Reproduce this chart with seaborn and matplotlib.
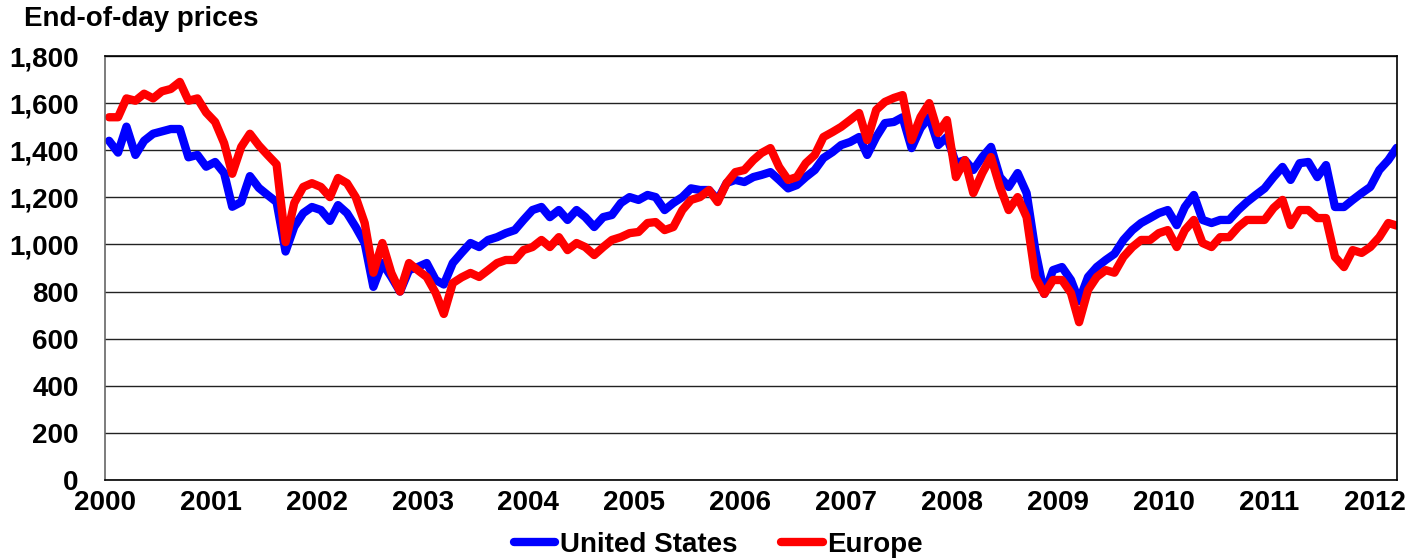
import pandas as pd
import seaborn as sns
import matplotlib
matplotlib.use("Agg")
import matplotlib.pyplot as plt
import matplotlib.dates as mdates
from matplotlib.ticker import FuncFormatter, MultipleLocator

# mid-month readings, Jan 2000 .. Mar 2012
fechas = pd.date_range("2000-01-01", "2012-03-01", freq="MS") + pd.Timedelta(days=14)

estados_unidos = [
    1440, 1390, 1500, 1380, 1440, 1470, 1480, 1490, 1490, 1370, 1380, 1330,  # 2000
    1350, 1303, 1160, 1180, 1290, 1240, 1210, 1180, 970, 1075, 1133, 1159,   # 2001
    1146, 1100, 1167, 1133, 1074, 1006, 820, 921, 862, 800, 891, 904,        # 2002
    921, 849, 830, 921, 964, 1006, 989, 1019, 1031, 1048, 1061, 1104,        # 2003
    1146, 1159, 1116, 1146, 1104, 1146, 1116, 1074, 1116, 1125, 1176, 1201,  # 2004
    1189, 1210, 1201, 1146, 1176, 1201, 1238, 1231, 1231, 1189, 1261, 1274,  # 2005
    1265, 1286, 1295, 1307, 1274, 1238, 1252, 1286, 1316, 1367, 1392, 1422,  # 2006
    1435, 1456, 1380, 1456, 1515, 1520, 1540, 1409, 1494, 1541, 1422, 1456,  # 2007
    1345, 1358, 1316, 1371, 1414, 1286, 1244, 1303, 1218, 976, 790, 891,     # 2008
    904, 849, 760, 862, 904, 934, 960, 1019, 1061, 1091, 1112, 1133,         # 2009
    1146, 1082, 1159, 1210, 1104, 1091, 1104, 1104, 1146, 1180, 1210, 1238,  # 2010
    1286, 1329, 1274, 1345, 1350, 1286, 1337, 1159, 1159, 1189, 1218, 1244,  # 2011
    1316, 1358, 1410,                                                        # 2012
]

europa = [
    1540, 1540, 1620, 1610, 1640, 1620, 1650, 1660, 1690, 1610, 1620, 1560,  # 2000
    1520, 1430, 1300, 1414, 1470, 1420, 1380, 1340, 1010, 1176, 1244, 1260,  # 2001
    1244, 1201, 1282, 1260, 1201, 1091, 880, 1006, 879, 800, 921, 891,       # 2002
    862, 794, 705, 836, 860, 879, 862, 891, 921, 934, 934, 976,              # 2003
    989, 1019, 989, 1031, 976, 1006, 989, 955, 989, 1019, 1031, 1048,        # 2004
    1053, 1091, 1095, 1061, 1074, 1146, 1189, 1201, 1231, 1180, 1261, 1307,  # 2005
    1316, 1358, 1388, 1409, 1329, 1274, 1286, 1345, 1380, 1456, 1477, 1499,  # 2006
    1528, 1558, 1443, 1571, 1605, 1622, 1634, 1443, 1541, 1600, 1473, 1528,  # 2007
    1286, 1358, 1218, 1303, 1371, 1244, 1146, 1201, 1116, 862, 790, 849,     # 2008
    849, 794, 670, 807, 862, 891, 880, 947, 989, 1019, 1019, 1048,           # 2009
    1061, 989, 1061, 1104, 1006, 989, 1031, 1031, 1074, 1104, 1104, 1104,    # 2010
    1155, 1189, 1082, 1146, 1146, 1112, 1112, 947, 904, 976, 964, 989,       # 2011
    1031, 1091, 1080,                                                        # 2012
]

series = ["United States", "Europe"]
colores = {"United States": "#0000FF", "Europe": "#FF0000"}

df = pd.concat([
    pd.DataFrame({"fecha": fechas, "precio": estados_unidos, "region": series[0]}),
    pd.DataFrame({"fecha": fechas, "precio": europa, "region": series[1]}),
])

sns.set_style("white")
plt.rcParams["font.family"] = ["Liberation Sans", "DejaVu Sans"]
plt.rcParams["font.weight"] = "bold"
plt.rcParams["text.color"] = "black"
plt.rcParams["xtick.color"] = "black"
plt.rcParams["ytick.color"] = "black"

fig = plt.figure(figsize=(14.14, 5.6), dpi=100)
ax = fig.add_axes([105 / 1414, 80 / 560, 1292 / 1414, 424 / 560])

sns.lineplot(data=df, x="fecha", y="precio", hue="region", hue_order=series,
             palette=colores, linewidth=6, ax=ax)

ax.set_ylim(0, 1800)
ax.set_xlim(pd.Timestamp("2000-01-01"), pd.Timestamp("2012-03-16"))
ax.yaxis.set_major_locator(MultipleLocator(200))
ax.yaxis.set_major_formatter(FuncFormatter(lambda v, p: f"{v:,.0f}"))
ax.xaxis.set_major_locator(mdates.YearLocator())
ax.xaxis.set_major_formatter(mdates.DateFormatter("%Y"))
ax.grid(axis="y", color="#222222", linewidth=1)
ax.set_axisbelow(True)
ax.set_xlabel("")
ax.set_ylabel("")
ax.tick_params(axis="y", length=0, pad=19, labelsize=20)
ax.tick_params(axis="x", length=0, pad=7, labelsize=20)
for s in ax.spines.values():
    s.set_color("black")
    s.set_linewidth(1.2)
ax.spines["left"].set_color("#666666")

h, l = ax.get_legend_handles_labels()
ax.get_legend().remove()
fig.legend(h, l, loc="center", bbox_to_anchor=(0.508, 1 - 545 / 560), ncol=2,
           frameon=False, fontsize=20, handlelength=1.5, handletextpad=0.15,
           columnspacing=1.6, borderaxespad=0)

fig.text(24 / 1414, 1 - 26 / 560, "End-of-day prices", fontsize=20,
         fontweight="bold", va="baseline", ha="left")

fig.savefig("out.png", dpi=100)
plt.close(fig)
